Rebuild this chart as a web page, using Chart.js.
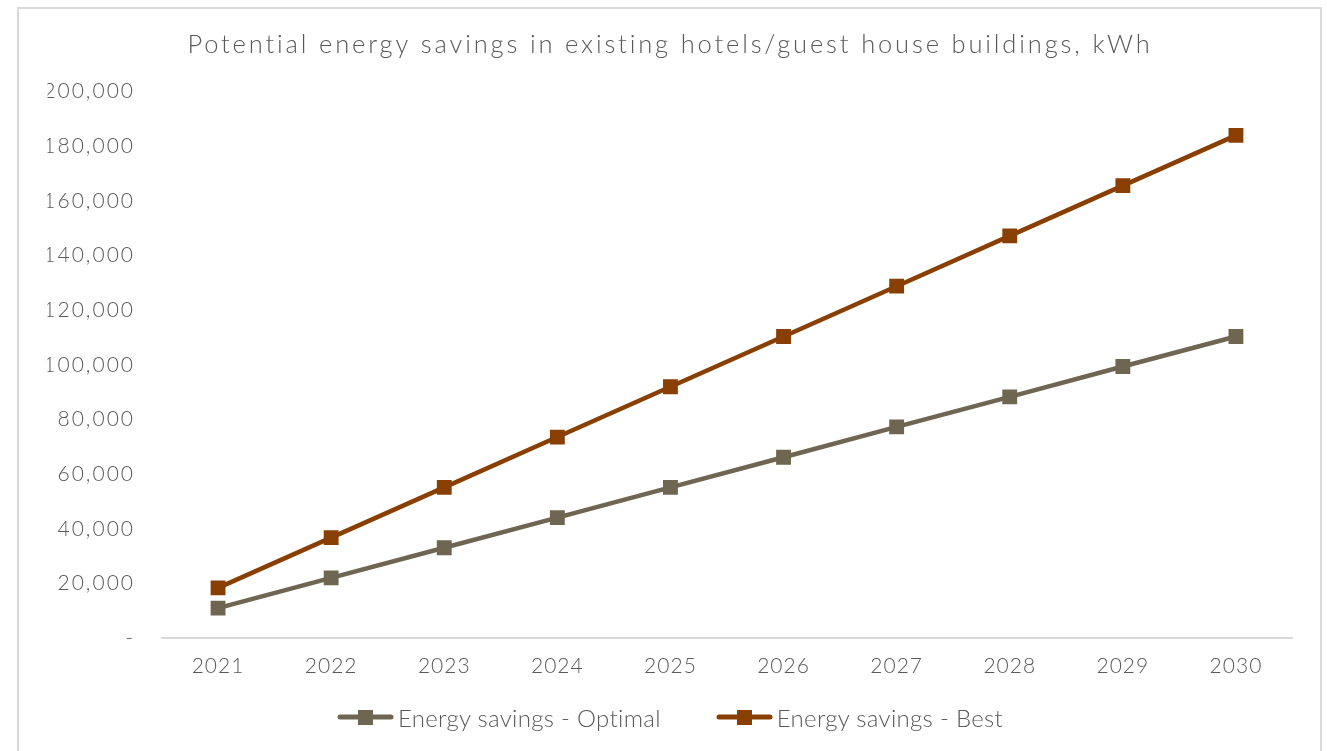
<!DOCTYPE html>
<html>
<head>
<meta charset="utf-8">
<script src="https://cdn.jsdelivr.net/npm/chart.js@4.4.1/dist/chart.umd.min.js"></script>
<style>
  html, body { margin: 0; padding: 0; background: #ffffff; overflow: hidden; }
  #frame {
    position: absolute; left: 17px; top: 7px; width: 1305px; height: 780px;
    border: 2px solid #d9d9d9; box-sizing: border-box;
  }
  #chart { position: absolute; left: 0; top: 0; }
  #legend {
    position: absolute; left: 0; width: 1340px; top: 702px; height: 30px;
    display: flex; justify-content: center; align-items: center; gap: 55px;
    font-family: Lato, 'Open Sans', sans-serif; font-size: 24px; font-weight: 300;
    letter-spacing: 0.3px; color: #595959; white-space: nowrap;
  }
  .item { display: flex; align-items: center; }
  .item canvas { margin-right: 4px; }
</style>
</head>
<body>
<div id="frame"></div>
<canvas id="chart" width="1327" height="751"></canvas>
<div id="legend"></div>
<script>
// Years on the horizontal axis
const years = ['2021', '2022', '2023', '2024', '2025', '2026', '2027', '2028', '2029', '2030'];

// Cumulative energy savings, kWh
const optimalSavings = [11000, 22100, 33100, 44100, 55200, 66200, 77300, 88300, 99400, 110400];
const bestSavings = [18400, 36800, 55200, 73600, 92000, 110400, 128800, 147200, 165600, 184000];

// Vertical axis range
const yMin = 0;
const yMax = 200000;
const yStep = 20000;

const seriesNames = ['Energy savings - Optimal', 'Energy savings - Best'];
const seriesColors = ['#6f6651', '#8a3f02'];

const TEXT = '#595959';
const FONT = "Lato, 'Open Sans', sans-serif";

// Legend swatch: a short line with a square marker in the middle
function legendSwatch(color) {
  const c = document.createElement('canvas');
  c.width = 57; c.height = 16;
  const g = c.getContext('2d');
  g.strokeStyle = color;
  g.lineWidth = 5;
  g.lineCap = 'round';
  g.beginPath(); g.moveTo(3, 8); g.lineTo(54, 8); g.stroke();
  g.fillStyle = color;
  g.fillRect(21, 1, 15, 15);
  return c;
}

// Wrap a draw method so its text is drawn with extra letter spacing
function withSpacing(obj, method, spacing) {
  const orig = obj[method];
  obj[method] = function (...args) {
    const ctx = this.ctx;
    ctx.save();
    ctx.letterSpacing = spacing;
    const r = orig.apply(this, args);
    ctx.restore();
    return r;
  };
}

const letterSpacingPlugin = {
  id: 'letterSpacing',
  beforeDraw(chart) {
    if (chart.$spaced) return;
    chart.$spaced = true;
    withSpacing(chart.titleBlock, 'draw', '2.85px');
    withSpacing(chart.scales.x, 'drawLabels', '1px');
    withSpacing(chart.scales.y, 'drawLabels', '2px');
  }
};

const datasets = [optimalSavings, bestSavings].map((values, i) => ({
  label: seriesNames[i],
  data: values,
  borderColor: seriesColors[i],
  backgroundColor: seriesColors[i],
  borderWidth: 4.5,
  pointStyle: 'rect',
  pointRadius: 10.5,
  pointHoverRadius: 10.5,
  pointBorderWidth: 0,
  tension: 0,
  fill: false
}));

const chart = new Chart(document.getElementById('chart'), {
  type: 'line',
  data: { labels: years, datasets },
  plugins: [letterSpacingPlugin],
  options: {
    responsive: false,
    animation: false,
    layout: { padding: { left: 47.5, right: 34.5, top: 0, bottom: 56.8 } },
    plugins: {
      tooltip: { enabled: false },
      legend: { display: false },
      title: {
        display: true,
        text: 'Potential energy savings in existing hotels/guest house buildings, kWh',
        color: TEXT,
        font: { family: FONT, size: 25.5, weight: 300 },
        padding: { top: 29, bottom: 32 }
      }
    },
    scales: {
      x: {
        offset: true,
        grid: { display: false, drawTicks: false },
        border: { display: true, color: '#d9d9d9', width: 2 },
        ticks: { color: TEXT, font: { family: FONT, size: 21, weight: 300 }, padding: 15.4, maxRotation: 0 }
      },
      y: {
        min: yMin,
        max: yMax,
        grid: { display: false, drawTicks: false },
        border: { display: false },
        afterFit: (scale) => { scale.width = 114; },
        ticks: {
          stepSize: yStep,
          color: TEXT,
          padding: 26.5,
          font: { family: FONT, size: 21, weight: 300 },
          callback: (v) => v === 0 ? '-' : v.toLocaleString('en-US')
        }
      }
    }
  }
});

// Legend row built from the same series names and colours
const legendEl = document.getElementById('legend');
chart.data.datasets.forEach((ds, i) => {
  const item = document.createElement('div');
  item.className = 'item';
  item.appendChild(legendSwatch(seriesColors[i]));
  const label = document.createElement('span');
  label.textContent = ds.label;
  item.appendChild(label);
  legendEl.appendChild(item);
});
</script>
</body>
</html>
